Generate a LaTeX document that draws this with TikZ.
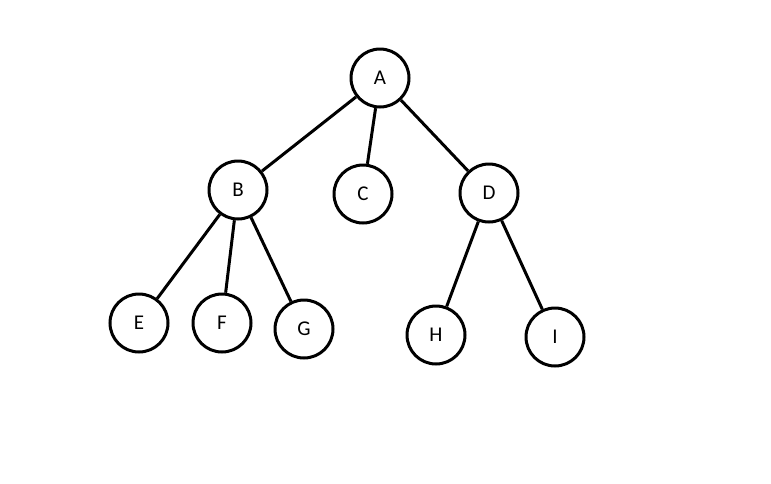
\documentclass[tikz,border=0pt]{standalone}
\usepackage{fontspec}
\setsansfont{Carlito}
\begin{document}
\begin{tikzpicture}[x=1pt, y=-1pt, line width=3pt,
  vertex/.style={draw, circle, minimum size=58pt, inner sep=0pt,
    font=\sffamily\fontsize{21}{21}\selectfont}]
\useasboundingbox (0,0) rectangle (771,483);
\node [vertex] (A) at (380, 78) {A};
\node [vertex] (B) at (238,190) {B};
\node [vertex] (C) at (363,194) {C};
\node [vertex] (D) at (489,193) {D};
\node [vertex] (E) at (139,323) {E};
\node [vertex] (F) at (222,323) {F};
\node [vertex] (G) at (304,329) {G};
\node [vertex] (H) at (436,335) {H};
\node [vertex] (I) at (555,337) {I};

\draw (A) -- (B);
\draw (A) -- (C);
\draw (A) -- (D);
\draw (B) -- (E);
\draw (B) -- (F);
\draw (B) -- (G);
\draw (D) -- (H);
\draw (D) -- (I);

\end{tikzpicture}
\end{document}
